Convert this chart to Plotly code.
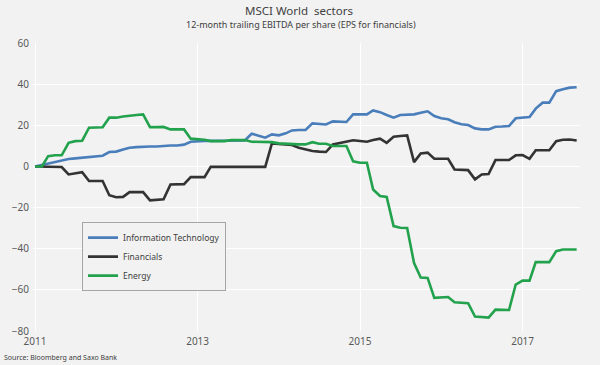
import pandas as pd
import plotly.graph_objects as go

# Monthly observations, Jan 2011 .. Sep 2017
months = pd.date_range("2011-01-01", periods=81, freq="MS")

info_tech = [0, 0.8, 1.5, 2.2, 2.9, 3.6, 3.9, 4.3, 4.7, 5.0, 5.2, 7.0, 7.2, 8.2, 9.1, 9.4,
             9.7, 9.7, 9.7, 10.1, 10.2, 10.2, 10.6, 12.0, 12.3, 12.4, 12.4, 12.4, 12.5, 12.5,
             12.5, 12.6, 15.9, 14.8, 14.0, 15.6, 15.1, 16.1, 17.5, 17.7, 17.7, 20.9, 20.5,
             20.4, 21.9, 21.8, 21.6, 25.3, 25.3, 25.3, 27.2, 26.4, 25.0, 23.7, 25.0, 25.1,
             25.3, 26.1, 26.8, 24.5, 23.4, 22.9, 21.5, 20.5, 20.1, 18.5, 18.0, 18.0, 19.3,
             19.4, 19.6, 23.4, 23.8, 24.0, 28.1, 31.0, 31.0, 36.6, 37.5, 38.3, 38.5]

financials = [0, 0, 0, 0, -0.3, -3.9, -3.5, -2.8, -7.1, -7.0, -7.1, -14.0, -15.0, -14.8,
              -12.5, -12.5, -12.5, -16.5, -16.3, -16.0, -8.8, -8.7, -8.6, -5.2, -5.2, -5.2,
              -0.2, -0.2, -0.2, -0.2, -0.2, -0.2, -0.2, -0.2, -0.2, 11.2, 11.0, 10.8, 10.4,
              9.1, 8.3, 7.5, 7.2, 7.0, 10.7, 11.3, 11.8, 12.7, 12.4, 12.0, 12.8, 13.5, 11.5,
              14.4, 14.8, 15.1, 2.1, 6.3, 6.7, 3.7, 3.7, 3.7, -1.5, -1.7, -1.8, -6.3, -3.9,
              -3.7, 3.1, 3.1, 3.1, 5.4, 5.5, 3.7, 7.9, 7.9, 7.9, 12.3, 13.0, 13.1, 12.6]

energy = [0, 0, 5.0, 5.4, 5.4, 11.5, 12.3, 12.5, 18.8, 18.8, 19.0, 23.7, 23.7, 24.3, 24.8,
          25.0, 25.3, 19.1, 19.1, 19.2, 18.0, 18.0, 18.0, 13.5, 13.2, 13.0, 12.3, 12.3, 12.3,
          12.8, 12.8, 12.8, 12.0, 12.0, 12.0, 11.8, 11.2, 11.0, 10.7, 10.7, 10.7, 11.8, 11.0,
          11.0, 9.9, 9.9, 9.9, 2.5, 1.8, 1.8, -11.2, -14.4, -14.8, -29.0, -29.8, -29.9, -47.0,
          -54.0, -54.2, -63.9, -63.7, -63.5, -66.0, -66.2, -66.5, -73.0, -73.3, -73.5, -69.6,
          -69.6, -69.8, -57.4, -55.5, -55.5, -46.5, -46.5, -46.5, -41.2, -40.4, -40.4, -40.4]

series_names = ["Information Technology", "Financials", "Energy"]
series_colors = ["#4a7ebb", "#333333", "#23a24d"]

y_ticks = [-80, -60, -40, -20, 0, 20, 40, 60]
x_ticks = ["2011-01-01", "2013-01-01", "2015-01-01", "2017-01-01"]
x_tick_labels = ["2011", "2013", "2015", "2017"]

FONT = "Noto Sans"
BG = "#f2f2f2"

fig = go.Figure()
for name, vals, col in zip(series_names, [info_tech, financials, energy], series_colors):
    fig.add_trace(go.Scatter(x=months, y=vals, mode="lines", name=name,
                             line=dict(color=col, width=2.6)))

fig.update_layout(
    width=600, height=365,
    margin=dict(l=33, r=20, t=43, b=34),
    paper_bgcolor=BG, plot_bgcolor=BG,
    font=dict(family=FONT, color="#595959", size=10),
    showlegend=True,
    legend=dict(x=0.0896, y=0.378, xanchor="left", yanchor="top",
                bgcolor=BG, bordercolor="#a6a6a6", borderwidth=1,
                font=dict(size=8.5, color="#404040", family=FONT),
                tracegroupgap=0),
    xaxis=dict(type="date", range=["2010-12-23", "2017-09-16"],
               tickvals=x_ticks, ticktext=x_tick_labels,
               showgrid=True, gridcolor="#ffffff", gridwidth=1,
               zeroline=False, showline=False, ticks="",
               ticklabelstandoff=3,
               tickfont=dict(size=10, color="#595959")),
    yaxis=dict(range=[-80, 60], tickvals=y_ticks,
               showgrid=True, gridcolor="#ffffff", gridwidth=1,
               zeroline=False, showline=False, ticks="",
               ticklabelstandoff=3,
               tickfont=dict(size=10, color="#595959")),
    annotations=[
        dict(text="MSCI World  sectors", xref="paper", yref="paper",
             x=0.487, y=1, xanchor="center", yanchor="bottom", yshift=23,
             showarrow=False, font=dict(size=11.5, color="#404040", family=FONT)),
        dict(text="12-month trailing EBITDA per share (EPS for financials)",
             xref="paper", yref="paper", x=0.49, y=1, xanchor="center",
             yanchor="bottom", yshift=10, showarrow=False,
             font=dict(size=9, color="#404040", family=FONT)),
        dict(text="Source: Bloomberg and Saxo Bank", xref="paper", yref="paper",
             x=0, y=0, xanchor="left", yanchor="top", xshift=-31, yshift=-20,
             showarrow=False, font=dict(size=7, color="#404040", family=FONT)),
    ],
)

fig.write_html(
    "out.html",
    config={"displayModeBar": False},
    post_script="document.body.style.margin='0';document.body.style.background='#f2f2f2';",
)
